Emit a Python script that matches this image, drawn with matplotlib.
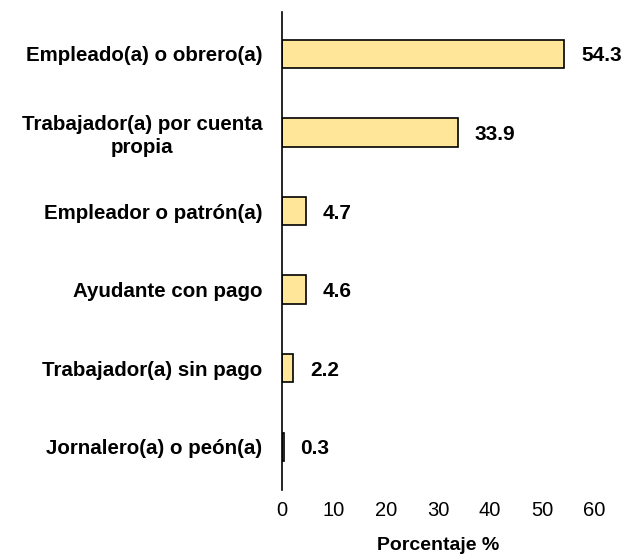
import matplotlib
matplotlib.use("Agg")
import matplotlib.pyplot as plt

categories = ["Empleado(a) o obrero(a)", "Trabajador(a) por cuenta\npropia",
              "Empleador o patrón(a)", "Ayudante con pago",
              "Trabajador(a) sin pago", "Jornalero(a) o peón(a)"]
values = [54.3, 33.9, 4.7, 4.6, 2.2, 0.3]
xticks = [0, 10, 20, 30, 40, 50, 60]

plt.rcParams['font.family'] = ['Liberation Sans', 'DejaVu Sans']

fig = plt.figure(figsize=(6.26, 5.54), dpi=100)
ax = fig.add_axes([0.4505, 0.1155, 0.4985, 0.8625])

pos = list(range(len(categories)))[::-1]
bars = ax.barh(pos, values, height=0.36, color='#FFE699', edgecolor='#000000', linewidth=1.2)
for p, v in zip(pos, values):
    ax.text(v + 3.2, p, f"{v:.1f}", va='center_baseline', ha='left', fontsize=15, fontweight='bold')

ax.set_yticks(pos)
ax.set_yticklabels(categories, fontsize=14.8, fontweight='bold', multialignment='center',
                   linespacing=1.25)
ax.set_xticks(xticks)
ax.set_xticklabels([str(t) for t in xticks], fontsize=14.5)
ax.set_xlim(0, 60)
ax.set_ylim(-0.55, 5.53)
ax.tick_params(axis='y', length=0, pad=14)
ax.tick_params(axis='x', length=0, pad=8)
for s in ['top', 'right', 'bottom']:
    ax.spines[s].set_visible(False)
ax.spines['left'].set_linewidth(1.2)
ax.set_xlabel("Porcentaje %", fontsize=14, fontweight='bold', labelpad=12)

fig.savefig("out.png", dpi=100)
